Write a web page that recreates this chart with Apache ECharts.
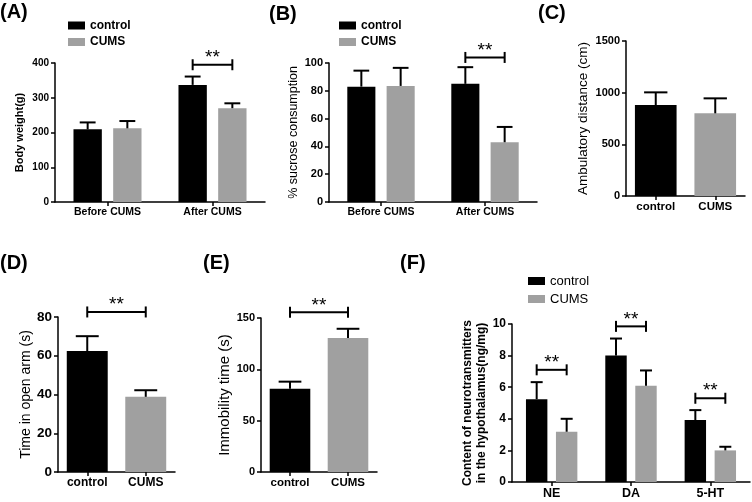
<!DOCTYPE html>
<html>
<head>
<meta charset="utf-8">
<script src="https://cdn.jsdelivr.net/npm/echarts@6/dist/echarts.min.js"></script>
<style>html,body{margin:0;padding:0;background:#fff}#c{width:752px;height:502px}</style>
</head>
<body>
<div id="c"></div>
<script>
// ---- Data ----
const catsAB = ['Before CUMS', 'After CUMS'];
const aControl = [209, 337];
const aControlErr = [20, 24];
const aCUMS = [212, 270];
const aCUMSErr = [21, 14];
const aSig = [[1, 395]];

const bControl = [83, 85];
const bControlErr = [11.5, 12];
const bCUMS = [83.5, 43];
const bCUMSErr = [13, 11];
const bSig = [[1, 104]];

const catsCDE = ['control', 'CUMS'];
const cValues = [880, 800];
const cErr = [123, 145];

const dValues = [62.4, 38.8];
const dErr = [7.7, 3.4];
const dSig = [[0, 82.6]];

const eValues = [81, 130.5];
const eErr = [7, 9];
const eSig = [[0, 155.5]];

const catsF = ['NE', 'DA', '5-HT'];
const fControl = [5.24, 8.0, 3.92];
const fControlErr = [1.08, 1.08, 0.63];
const fCUMS = [3.18, 6.09, 2.0];
const fCUMSErr = [0.82, 0.97, 0.23];
const fSig = [[0, 7.1], [1, 9.85], [2, 5.3]];

// ---- Styles ----
const FONT = '"Liberation Sans", Arial, sans-serif';
const BLACK = '#000000';
const GRAY = '#a0a0a0';
const pairColors = [BLACK, GRAY];
const GW = 0.27, GG = 0.4;   // grouped bar width / gap
const SW = 0.7;              // single bar width

function errRender(sign, wPct, gPct) {
  return function (params, api) {
    const x = api.value(0), v = api.value(1), e = api.value(2);
    const cw = api.size([1, 0])[0];
    const bw = cw * wPct;
    const off = sign * (bw + bw * gPct) / 2;
    const p0 = api.coord([x, v]);
    const p1 = api.coord([x, v + e]);
    const cx = p0[0] + off;
    const cap = bw * 0.28;
    const st = { stroke: BLACK, lineWidth: 2 };
    return { type: 'group', children: [
      { type: 'line', shape: { x1: cx, y1: p0[1], x2: cx, y2: p1[1] }, style: st },
      { type: 'line', shape: { x1: cx - cap, y1: p1[1], x2: cx + cap, y2: p1[1] }, style: st }
    ]};
  };
}
function sigRender(mode, wPct, gPct) {
  return function (params, api) {
    const x = api.value(0), y = api.value(1);
    let xa, xb, py;
    if (mode === 'pair') {
      const cw = api.size([1, 0])[0];
      const bw = cw * wPct;
      const off = (bw + bw * gPct) / 2;
      const p = api.coord([x, y]);
      xa = p[0] - off; xb = p[0] + off; py = p[1];
    } else {
      const p = api.coord([x, y]);
      const q = api.coord([x + 1, y]);
      xa = p[0]; xb = q[0]; py = p[1];
    }
    const st = { stroke: BLACK, lineWidth: 2 };
    return { type: 'group', children: [
      { type: 'line', shape: { x1: xa, y1: py, x2: xb, y2: py }, style: st },
      { type: 'line', shape: { x1: xa, y1: py - 5.5, x2: xa, y2: py + 5.5 }, style: st },
      { type: 'line', shape: { x1: xb, y1: py - 5.5, x2: xb, y2: py + 5.5 }, style: st },
      { type: 'text', style: { text: '**', x: (xa + xb) / 2, y: py - 7, align: 'center', verticalAlign: 'middle',
          fontSize: 19, fontFamily: FONT, fill: BLACK } }
    ]};
  };
}

const grids = [
  { left: 55, top: 63, width: 210, height: 139 },
  { left: 329, top: 63, width: 208, height: 139 },
  { left: 626, top: 41, width: 119, height: 155 },
  { left: 58, top: 317, width: 117, height: 155 },
  { left: 261, top: 318, width: 116, height: 154 },
  { left: 512, top: 324, width: 238, height: 158 }
];
const xCats = [catsAB, catsAB, catsCDE, catsCDE, catsCDE, catsF];
const xFont = [10.5, 10.5, 11.5, 12, 11.5, 12.5];
const yTickFont = [10, 11, 11, 13.5, 11, 12];
const yMax = [400, 100, 1500, 80, 150, 10];
const yInt = [100, 20, 500, 20, 50, 2];
const yNames = ['Body weight(g)', '% sucrose consumption', 'Ambulatory distance (cm)', 'Time in open arm (s)',
  'Immobility time (s)', 'Content of neurotransmitters\nin the hypothalamus(ng/mg)'];
const yNameGap = [28, 28, 36, 23, 24, 22];
const yNameSize = [11, 12.5, 13.5, 14, 15, 12];
const yNameWeight = ['bold', 'normal', 'normal', 'normal', 'normal', 'bold'];

const axisLine = { show: true, lineStyle: { color: BLACK, width: 1.5 } };
const xAxis = grids.map((g, i) => ({
  gridIndex: i, type: 'category', data: xCats[i],
  axisLine: axisLine,
  axisTick: { show: true, alignWithLabel: true, length: 4, lineStyle: { color: BLACK, width: 1.5 } },
  axisLabel: { color: BLACK, fontWeight: 'bold', fontSize: xFont[i], fontFamily: FONT, margin: 5, interval: 0 },
  splitLine: { show: false }
}));
const yAxis = grids.map((g, i) => ({
  gridIndex: i, type: 'value', min: 0, max: yMax[i], interval: yInt[i],
  axisLine: axisLine,
  axisTick: { show: true, length: 4, lineStyle: { color: BLACK, width: 1.5 } },
  axisLabel: { color: BLACK, fontWeight: 'bold', fontSize: yTickFont[i], fontFamily: FONT, margin: 6,
    formatter: v => String(v) },
  splitLine: { show: false },
  name: yNames[i], nameLocation: 'middle', nameRotate: 90, nameGap: yNameGap[i],
  nameTextStyle: { color: BLACK, fontSize: yNameSize[i], fontWeight: yNameWeight[i], fontFamily: FONT, lineHeight: 14 }
}));

function zipErr(v, e) { return v.map((x, i) => [i, x, e[i]]); }
function barS(name, idx, data, color) {
  return { type: 'bar', name: name, xAxisIndex: idx, yAxisIndex: idx, data: data,
    barWidth: (GW * 100) + '%', barGap: (GG * 100) + '%', itemStyle: { color: color }, silent: true };
}
function errS(idx, data, sign, w, g) {
  return { type: 'custom', name: 'err' + idx + sign, xAxisIndex: idx, yAxisIndex: idx, data: data,
    encode: { x: 0, y: 1 }, renderItem: errRender(sign, w, g), silent: true, z: 5, clip: false };
}
function sigS(idx, data, mode, w, g) {
  return { type: 'custom', name: 'sig' + idx, xAxisIndex: idx, yAxisIndex: idx, data: data,
    encode: { x: 0, y: 1 }, renderItem: sigRender(mode, w, g), silent: true, z: 5, clip: false };
}
function singleS(idx, vals) {
  return { type: 'bar', name: 'single' + idx, xAxisIndex: idx, yAxisIndex: idx,
    data: vals.map((v, i) => ({ value: v, itemStyle: { color: pairColors[i] } })),
    barWidth: (SW * 100) + '%', silent: true };
}

const series = [
  barS('control', 0, aControl, BLACK), barS('CUMS', 0, aCUMS, GRAY),
  errS(0, zipErr(aControl, aControlErr), -1, GW, GG), errS(0, zipErr(aCUMS, aCUMSErr), 1, GW, GG),
  sigS(0, aSig, 'pair', GW, GG),

  barS('control', 1, bControl, BLACK), barS('CUMS', 1, bCUMS, GRAY),
  errS(1, zipErr(bControl, bControlErr), -1, GW, GG), errS(1, zipErr(bCUMS, bCUMSErr), 1, GW, GG),
  sigS(1, bSig, 'pair', GW, GG),

  singleS(2, cValues), errS(2, zipErr(cValues, cErr), 0, SW, 0),

  singleS(3, dValues), errS(3, zipErr(dValues, dErr), 0, SW, 0), sigS(3, dSig, 'span', SW, 0),

  singleS(4, eValues), errS(4, zipErr(eValues, eErr), 0, SW, 0), sigS(4, eSig, 'span', SW, 0),

  barS('control', 5, fControl, BLACK), barS('CUMS', 5, fCUMS, GRAY),
  errS(5, zipErr(fControl, fControlErr), -1, GW, GG), errS(5, zipErr(fCUMS, fCUMSErr), 1, GW, GG),
  sigS(5, fSig, 'pair', GW, GG)
];

function legendAt(left, top, size, weight, gap) {
  return { data: ['control', 'CUMS'], left: left, top: top, orient: 'vertical', icon: 'rect',
    itemWidth: 17, itemHeight: 8, itemGap: gap, selectedMode: false, padding: 0,
    textStyle: { color: BLACK, fontSize: size, fontWeight: weight, fontFamily: FONT, lineHeight: 14 } };
}

const panelLabels = [['(A)', 0, 2], ['(B)', 269, 4], ['(C)', 538, 3], ['(D)', 0, 253], ['(E)', 203, 253], ['(F)', 400, 253]];

const option = {
  animation: false,
  backgroundColor: '#fff',
  grid: grids,
  xAxis: xAxis,
  yAxis: yAxis,
  legend: [legendAt(68, 18.5, 12, 'bold', 2.5), legendAt(339, 18.5, 12, 'bold', 2.5), legendAt(528, 274, 13, 'normal', 4)],
  graphic: panelLabels.map(p => ({ type: 'text', left: p[1], top: p[2],
    style: { text: p[0], fontSize: 20, fontWeight: 'bold', fontFamily: FONT, fill: BLACK } })),
  series: series
};

const chart = echarts.init(document.getElementById('c'), null, { renderer: 'canvas' });
chart.setOption(option);
</script>
</body>
</html>
